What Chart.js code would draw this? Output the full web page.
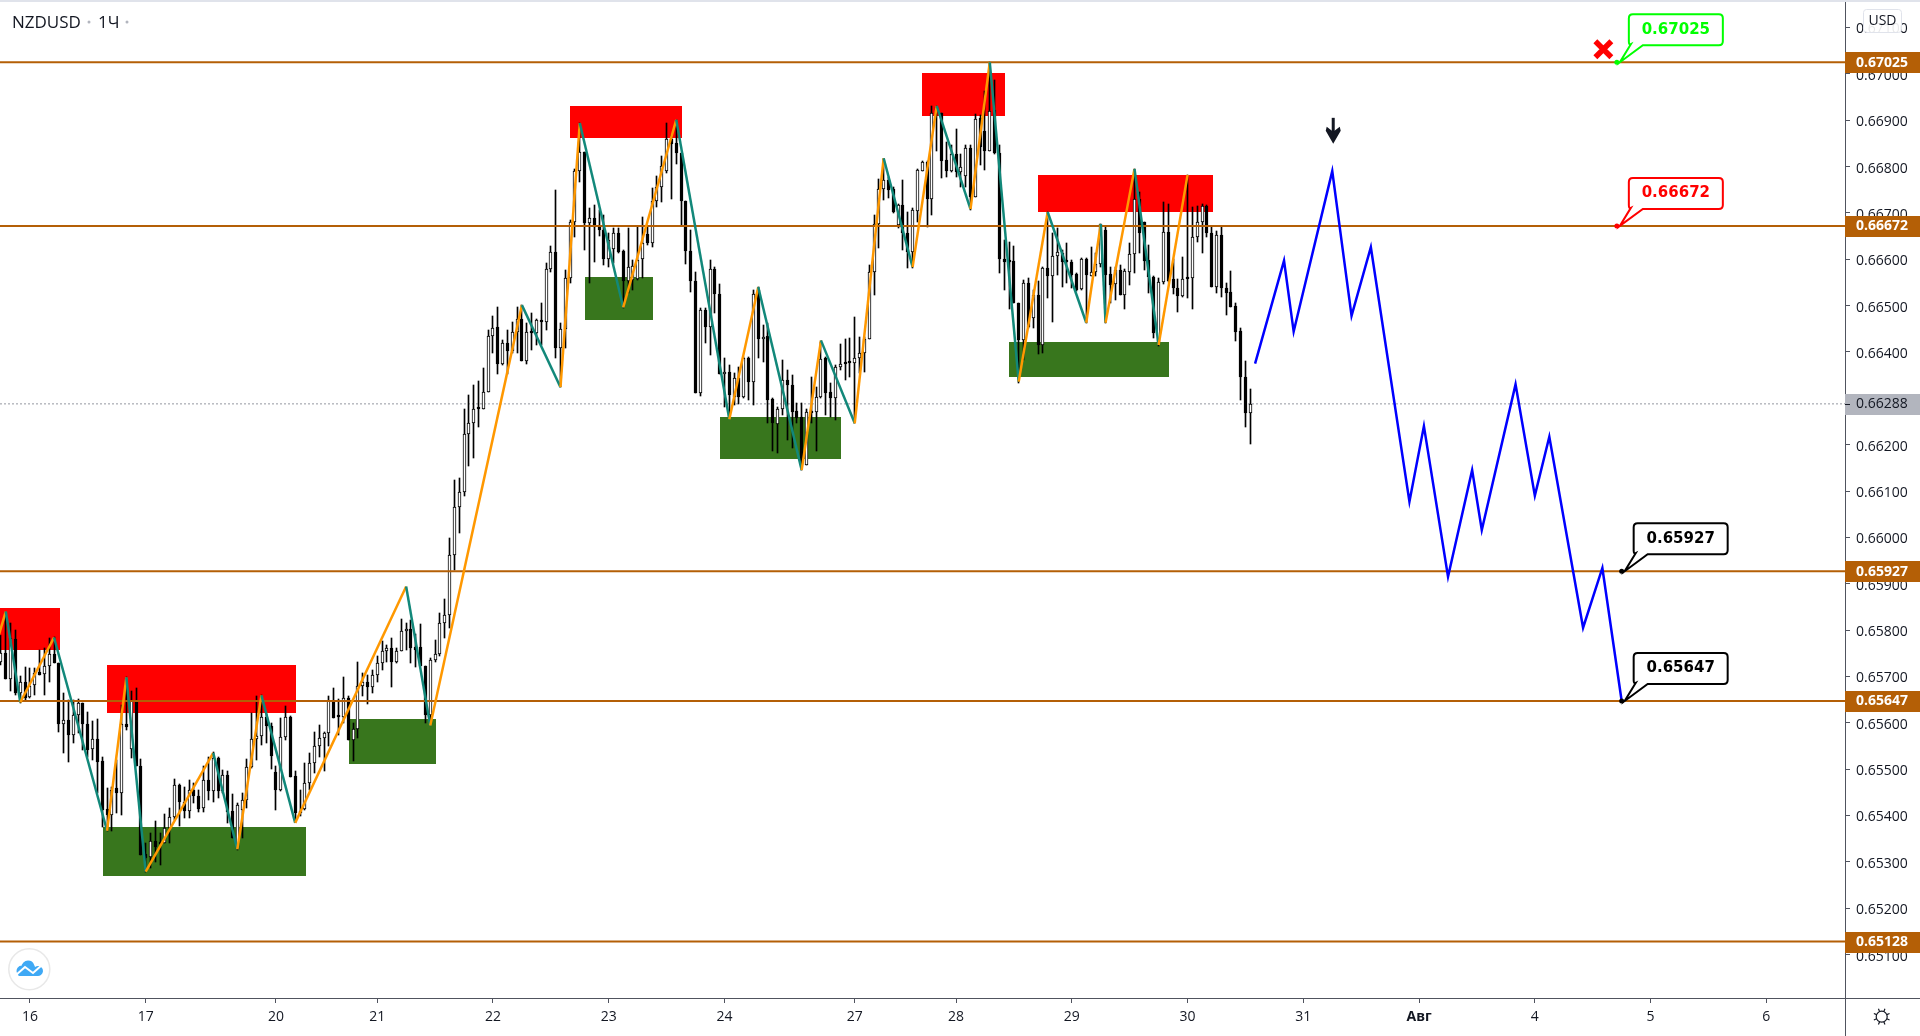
<!DOCTYPE html>
<html>
<head>
<meta charset="utf-8">
<title>NZDUSD</title>
<script src="https://cdn.jsdelivr.net/npm/chart.js@4"></script>
<style>
html, body { margin: 0; background: #fff; }
canvas { display: block; }
</style>
</head>
<body>
<canvas id="chart" width="1920" height="1036"></canvas>
<script>
// hourly candles, index 0 is the first bar on the left
const opens = [
0.65732,0.65750,0.65694,0.65781,0.65664,0.65689,0.65655,0.65682,0.65710,0.65705,
0.65722,0.65748,0.65730,0.65597,0.65606,0.65573,0.65616,0.65642,0.65597,0.65543,
0.65565,0.65518,0.65413,0.65401,0.65459,0.65448,0.65597,0.65544,0.65646,0.65507,
0.65317,0.65310,0.65345,0.65340,0.65341,0.65374,0.65396,0.65466,0.65428,0.65410,
0.65455,0.65442,0.65416,0.65477,0.65452,0.65524,0.65452,0.65488,0.65410,0.65327,
0.65412,0.65434,0.65504,0.65565,0.65572,0.65612,0.65592,0.65493,0.65454,0.65569,
0.65612,0.65485,0.65408,0.65413,0.65470,0.65513,0.65550,0.65567,0.65578,0.65648,
0.65615,0.65612,0.65653,0.65563,0.65586,0.65680,0.65688,0.65678,0.65704,0.65729,
0.65754,0.65761,0.65732,0.65754,0.65798,0.65802,0.65763,0.65763,0.65722,0.65617,
0.65735,0.65748,0.65815,0.65832,0.65963,0.66066,0.66098,0.66224,0.66246,0.66278,
0.66276,0.66314,0.66435,0.66453,0.66374,0.66419,0.66403,0.66442,0.66472,0.66381,
0.66444,0.66440,0.66469,0.66465,0.66580,0.66615,0.66408,0.66449,0.66559,0.66680,
0.66790,0.66832,0.66679,0.66690,0.66670,0.66664,0.66600,0.66623,0.66656,0.66618,
0.66554,0.66555,0.66557,0.66600,0.66654,0.66636,0.66726,0.66756,0.66791,0.66859,
0.66850,0.66830,0.66726,0.66618,0.66554,0.66311,0.66490,0.66453,0.66580,0.66526,
0.66352,0.66357,0.66303,0.66343,0.66303,0.66388,0.66336,0.66534,0.66429,0.66434,
0.66298,0.66244,0.66276,0.66339,0.66329,0.66273,0.66259,0.66156,0.66273,0.66271,
0.66302,0.66386,0.66314,0.66301,0.66367,0.66377,0.66377,0.66377,0.66386,0.66397,
0.66429,0.66572,0.66675,0.66751,0.66772,0.66751,0.66674,0.66717,0.66656,0.66616,
0.66705,0.66791,0.66809,0.66729,0.66928,0.66916,0.66814,0.66791,0.66826,0.66789,
0.66779,0.66841,0.66735,0.66905,0.66876,0.66833,0.66921,0.66830,0.66600,0.66596,
0.66596,0.66505,0.66426,0.66548,0.66473,0.66523,0.66416,0.66581,0.66563,0.66606,
0.66613,0.66595,0.66595,0.66568,0.66535,0.66600,0.66564,0.66573,0.66590,0.66664,
0.66568,0.66546,0.66577,0.66522,0.66573,0.66611,0.66729,0.66681,0.66598,0.66561,
0.66419,0.66550,0.66658,0.66558,0.66538,0.66520,0.66559,0.66559,0.66647,0.66680,
0.66715,0.66656,0.66541,0.66652,0.66538,0.66529,0.66500,0.66446,0.66347,0.66268];
const highs = [
0.65790,0.65840,0.65815,0.65801,0.65700,0.65720,0.65718,0.65718,0.65758,0.65761,
0.65783,0.65784,0.65730,0.65664,0.65650,0.65650,0.65651,0.65642,0.65624,0.65603,
0.65608,0.65527,0.65459,0.65462,0.65520,0.65639,0.65699,0.65669,0.65675,0.65521,
0.65340,0.65362,0.65387,0.65362,0.65403,0.65416,0.65478,0.65468,0.65462,0.65477,
0.65470,0.65455,0.65506,0.65527,0.65538,0.65527,0.65498,0.65497,0.65446,0.65426,
0.65448,0.65521,0.65621,0.65657,0.65659,0.65619,0.65599,0.65507,0.65610,0.65637,
0.65615,0.65497,0.65454,0.65514,0.65534,0.65581,0.65596,0.65581,0.65658,0.65675,
0.65651,0.65699,0.65657,0.65599,0.65732,0.65707,0.65704,0.65714,0.65743,0.65776,
0.65768,0.65783,0.65761,0.65824,0.65815,0.65822,0.65792,0.65812,0.65723,0.65740,
0.65779,0.65837,0.65866,0.65998,0.66124,0.66127,0.66278,0.66307,0.66329,0.66337,
0.66365,0.66447,0.66477,0.66496,0.66426,0.66447,0.66465,0.66497,0.66501,0.66462,
0.66483,0.66472,0.66505,0.66591,0.66628,0.66749,0.66462,0.66577,0.66685,0.66794,
0.66893,0.66832,0.66710,0.66717,0.66706,0.66695,0.66656,0.66667,0.66667,0.66620,
0.66667,0.66598,0.66670,0.66692,0.66670,0.66753,0.66780,0.66823,0.66893,0.66868,
0.66900,0.66830,0.66726,0.66664,0.66573,0.66494,0.66494,0.66598,0.66584,0.66547,
0.66386,0.66372,0.66354,0.66368,0.66390,0.66390,0.66534,0.66541,0.66458,0.66462,
0.66300,0.66282,0.66383,0.66361,0.66350,0.66289,0.66289,0.66276,0.66347,0.66325,
0.66422,0.66390,0.66332,0.66372,0.66417,0.66429,0.66430,0.66476,0.66433,0.66433,
0.66587,0.66695,0.66774,0.66816,0.66777,0.66755,0.66720,0.66771,0.66703,0.66710,
0.66794,0.66812,0.66812,0.66930,0.66931,0.66916,0.66853,0.66846,0.66882,0.66828,
0.66846,0.66846,0.66913,0.66911,0.66964,0.67025,0.66986,0.66846,0.66642,0.66638,
0.66629,0.66505,0.66555,0.66559,0.66534,0.66552,0.66584,0.66702,0.66656,0.66667,
0.66620,0.66634,0.66598,0.66570,0.66602,0.66602,0.66626,0.66613,0.66676,0.66669,
0.66584,0.66584,0.66588,0.66580,0.66634,0.66795,0.66746,0.66681,0.66631,0.66564,
0.66559,0.66723,0.66719,0.66600,0.66557,0.66604,0.66781,0.66713,0.66715,0.66719,
0.66717,0.66670,0.66662,0.66672,0.66548,0.66575,0.66505,0.66451,0.66381,0.66320];
const lows = [
0.65725,0.65694,0.65668,0.65660,0.65642,0.65650,0.65653,0.65660,0.65704,0.65660,
0.65689,0.65730,0.65581,0.65534,0.65515,0.65556,0.65578,0.65542,0.65527,0.65520,
0.65448,0.65376,0.65367,0.65367,0.65405,0.65401,0.65585,0.65524,0.65506,0.65315,
0.65279,0.65286,0.65300,0.65293,0.65340,0.65340,0.65390,0.65378,0.65394,0.65394,
0.65426,0.65408,0.65408,0.65434,0.65430,0.65437,0.65448,0.65383,0.65351,0.65326,
0.65351,0.65416,0.65502,0.65520,0.65552,0.65556,0.65501,0.65412,0.65452,0.65563,
0.65484,0.65385,0.65398,0.65412,0.65455,0.65491,0.65527,0.65495,0.65549,0.65610,
0.65574,0.65599,0.65563,0.65518,0.65567,0.65657,0.65641,0.65665,0.65689,0.65714,
0.65732,0.65677,0.65730,0.65754,0.65758,0.65730,0.65720,0.65722,0.65599,0.65599,
0.65732,0.65743,0.65783,0.65805,0.65929,0.66010,0.66089,0.66155,0.66172,0.66239,
0.66276,0.66314,0.66397,0.66352,0.66372,0.66352,0.66397,0.66397,0.66381,0.66374,
0.66404,0.66415,0.66415,0.66447,0.66573,0.66386,0.66325,0.66408,0.66548,0.66649,
0.66767,0.66620,0.66548,0.66593,0.66650,0.66588,0.66584,0.66591,0.66613,0.66495,
0.66527,0.66534,0.66555,0.66559,0.66630,0.66627,0.66712,0.66724,0.66787,0.66731,
0.66805,0.66674,0.66590,0.66529,0.66311,0.66304,0.66420,0.66393,0.66483,0.66352,
0.66282,0.66257,0.66286,0.66288,0.66300,0.66296,0.66286,0.66386,0.66379,0.66246,
0.66187,0.66181,0.66264,0.66210,0.66192,0.66246,0.66145,0.66156,0.66246,0.66186,
0.66300,0.66264,0.66260,0.66253,0.66360,0.66339,0.66347,0.66246,0.66354,0.66357,
0.66429,0.66523,0.66624,0.66728,0.66733,0.66699,0.66667,0.66620,0.66581,0.66581,
0.66681,0.66791,0.66669,0.66695,0.66833,0.66776,0.66778,0.66789,0.66778,0.66756,
0.66756,0.66706,0.66735,0.66803,0.66792,0.66833,0.66828,0.66570,0.66534,0.66492,
0.66505,0.66333,0.66383,0.66451,0.66451,0.66396,0.66398,0.66516,0.66464,0.66566,
0.66541,0.66548,0.66537,0.66532,0.66534,0.66462,0.66563,0.66563,0.66584,0.66462,
0.66505,0.66512,0.66522,0.66493,0.66545,0.66570,0.66613,0.66577,0.66527,0.66431,
0.66413,0.66546,0.66550,0.66524,0.66487,0.66518,0.66516,0.66492,0.66638,0.66613,
0.66647,0.66540,0.66527,0.66518,0.66479,0.66498,0.66423,0.66296,0.66238,0.66202];
const closes = [
0.65750,0.65694,0.65783,0.65664,0.65689,0.65653,0.65680,0.65707,0.65704,0.65722,
0.65748,0.65730,0.65597,0.65605,0.65573,0.65616,0.65642,0.65597,0.65542,0.65565,
0.65516,0.65412,0.65401,0.65455,0.65448,0.65597,0.65590,0.65646,0.65507,0.65315,
0.65308,0.65344,0.65333,0.65339,0.65374,0.65396,0.65465,0.65428,0.65410,0.65454,
0.65441,0.65414,0.65477,0.65452,0.65524,0.65452,0.65488,0.65408,0.65352,0.65423,
0.65434,0.65504,0.65565,0.65572,0.65612,0.65592,0.65529,0.65454,0.65569,0.65612,
0.65484,0.65406,0.65406,0.65470,0.65513,0.65550,0.65567,0.65578,0.65648,0.65611,
0.65612,0.65653,0.65563,0.65586,0.65680,0.65687,0.65678,0.65704,0.65729,0.65754,
0.65761,0.65732,0.65754,0.65798,0.65802,0.65761,0.65758,0.65722,0.65617,0.65735,
0.65748,0.65815,0.65832,0.65963,0.66066,0.66098,0.66224,0.66246,0.66278,0.66276,
0.66314,0.66435,0.66452,0.66374,0.66419,0.66403,0.66442,0.66472,0.66381,0.66444,
0.66440,0.66469,0.66465,0.66580,0.66615,0.66408,0.66449,0.66559,0.66680,0.66790,
0.66832,0.66679,0.66690,0.66669,0.66664,0.66600,0.66641,0.66656,0.66616,0.66554,
0.66584,0.66585,0.66598,0.66634,0.66636,0.66726,0.66756,0.66801,0.66859,0.66849,
0.66830,0.66726,0.66618,0.66554,0.66311,0.66490,0.66453,0.66580,0.66526,0.66352,
0.66357,0.66307,0.66343,0.66303,0.66386,0.66336,0.66526,0.66429,0.66433,0.66296,
0.66246,0.66276,0.66339,0.66329,0.66271,0.66257,0.66156,0.66270,0.66269,0.66302,
0.66384,0.66312,0.66301,0.66367,0.66375,0.66375,0.66376,0.66386,0.66397,0.66429,
0.66572,0.66675,0.66751,0.66772,0.66749,0.66703,0.66717,0.66656,0.66616,0.66706,
0.66792,0.66809,0.66729,0.66916,0.66921,0.66812,0.66791,0.66826,0.66789,0.66800,
0.66841,0.66735,0.66903,0.66842,0.66833,0.66920,0.66830,0.66600,0.66593,0.66593,
0.66505,0.66425,0.66548,0.66454,0.66523,0.66415,0.66581,0.66563,0.66606,0.66615,
0.66593,0.66593,0.66566,0.66534,0.66600,0.66565,0.66573,0.66590,0.66675,0.66566,
0.66545,0.66577,0.66522,0.66575,0.66611,0.66729,0.66656,0.66597,0.66561,0.66441,
0.66550,0.66658,0.66554,0.66538,0.66520,0.66557,0.66557,0.66647,0.66680,0.66715,
0.66656,0.66541,0.66652,0.66538,0.66528,0.66498,0.66444,0.66347,0.66268,0.66288];

// zigzag drawn over the candles
const zigzagBars = [-1,1,4,11,22,26,30,44,49,54,61,84,89,108,116,120,129,140,151,157,166,170,177,183,189,194,201,205,211,217,225,228,229,235,240,246];
const zigzagPrices = [0.65770,0.65840,0.65644,0.65784,0.65367,0.65698,0.65279,0.65535,0.65327,0.65659,0.65384,0.65894,0.65594,0.66501,0.66324,0.66894,0.66496,0.66901,0.66255,0.66540,0.66145,0.66425,0.66246,0.66818,0.66583,0.66931,0.66708,0.67025,0.66336,0.66702,0.66463,0.66676,0.66463,0.66795,0.66415,0.66782];

// blue forecast path
const forecastBars = [260,266,268,276,280,284,292,295,300,305,307,314,318,321,328,332,336];
const forecastPrices = [0.66375,0.66597,0.66444,0.66790,0.66478,0.66626,0.66077,0.66240,0.65915,0.66145,0.66016,0.66330,0.66090,0.66217,0.65805,0.65934,0.65647];

// supply and demand zones
const redStart = [-1,22,118,191,215];
const redEnd = [12.2,61.2,141.2,208.2,251.3];
const redTop = [0.65848,0.65725,0.66931,0.67001,0.66782];
const redBottom = [0.65756,0.65621,0.66862,0.66909,0.66702];
const greenStart = [21.1,72.2,121.1,149.1,209];
const greenEnd = [63.2,90.2,135.2,174.2,242.2];
const greenTop = [0.65375,0.65608,0.66562,0.66260,0.66422];
const greenBottom = [0.65269,0.65511,0.66469,0.66169,0.66347];

// horizontal levels and their callouts
const levels = [0.67025,0.66672,0.65927,0.65647,0.65128];
const lastPrice = 0.66288;
const calloutBars = [335,335,336,336];
const calloutPrices = [0.67025,0.66672,0.65927,0.65647];
const calloutColors = ['#00ff00','#ff0000','#000000','#000000'];

const arrowBar = 276.2, arrowPrice = 0.66849;
const crossBar = 332.2, crossPrice = 0.67053;

const dayBars = [6,30,57,78,102,126,150,177,198,222,246,270,294,318,342,366];
const dayLabels = ['16','17','20','21','22','23','24','27','28','29','30','31','Авг','4','5','6'];
const priceTicks = [0.651,0.652,0.653,0.654,0.655,0.656,0.657,0.658,0.659,0.660,0.661,0.662,0.664,0.665,0.666,0.667,0.668,0.669,0.670,0.671];

const brown = '#b45f06';
const axisColor = '#50535e';
const textColor = '#131722';
const axisFont = '"Open Sans", sans-serif';

const xMin = -0.2, xMax = 382.3;
const yMin = 0.650062, yMax = 0.671550;

function zonesOf(ctx, chart, starts, ends, tops, bottoms, color) {
    const { x, y } = chart.scales;
    const area = chart.chartArea;
    ctx.fillStyle = color;
    starts.forEach((s, i) => {
        const left = Math.max(Math.round(x.getPixelForValue(s)), area.left);
        const right = Math.round(x.getPixelForValue(ends[i]));
        const top = Math.round(y.getPixelForValue(tops[i]));
        const bottom = Math.round(y.getPixelForValue(bottoms[i]));
        ctx.fillRect(left, top, right - left, bottom - top);
    });
}

// zones sit behind the candles
const zonesPlugin = {
    id: 'zones',
    beforeDatasetsDraw(chart) {
        const ctx = chart.ctx;
        ctx.save();
        zonesOf(ctx, chart, redStart, redEnd, redTop, redBottom, '#ff0000');
        zonesOf(ctx, chart, greenStart, greenEnd, greenTop, greenBottom, '#38761d');
        ctx.restore();
    }
};

// keep the candles on whole pixels so they stay sharp
const snapPlugin = {
    id: 'snap',
    afterDatasetsUpdate(chart) {
        chart.data.datasets.forEach((ds, i) => {
            if (ds.type !== 'bar') return;
            chart.getDatasetMeta(i).data.forEach(bar => {
                bar.x = Math.floor(bar.x) + 0.5;
                bar.y = Math.round(bar.y);
                bar.base = Math.round(bar.base);
            });
        });
    }
};

function drawCallout(ctx, px, py, price, color) {
    const left = px + 12, right = px + 106, top = py - 48, bottom = py - 17, r = 4;
    ctx.beginPath();
    ctx.moveTo(left + r, top);
    ctx.lineTo(right - r, top);
    ctx.quadraticCurveTo(right, top, right, top + r);
    ctx.lineTo(right, bottom - r);
    ctx.quadraticCurveTo(right, bottom, right - r, bottom);
    ctx.lineTo(left + 14, bottom);
    ctx.lineTo(px + 3, py);
    ctx.lineTo(left + 2, bottom - 1);
    ctx.quadraticCurveTo(left, bottom, left, bottom - r);
    ctx.lineTo(left, top + r);
    ctx.quadraticCurveTo(left, top, left + r, top);
    ctx.closePath();
    ctx.fillStyle = '#fff';
    ctx.fill();
    ctx.strokeStyle = color;
    ctx.lineWidth = 2;
    ctx.stroke();
    ctx.fillStyle = color;
    ctx.beginPath();
    ctx.arc(px, py, 2.5, 0, Math.PI * 2);
    ctx.fill();
    ctx.font = 'bold 15px "DejaVu Sans"';
    ctx.textAlign = 'center';
    ctx.textBaseline = 'middle';
    ctx.fillText(price.toFixed(5), (left + right) / 2, (top + bottom) / 2);
}

function drawPriceTag(ctx, py, price, background, color, weight) {
    ctx.fillStyle = background;
    ctx.fillRect(1845, Math.round(py) - 10, 75, 21);
    ctx.fillStyle = color;
    ctx.font = weight + ' 14px ' + axisFont;
    ctx.textAlign = 'left';
    ctx.textBaseline = 'middle';
    ctx.fillText(price.toFixed(5), 1856, py + 0.5);
}

function drawLogo(ctx) {
    ctx.strokeStyle = '#e8e8e8';
    ctx.lineWidth = 1.5;
    ctx.fillStyle = '#fff';
    ctx.beginPath();
    ctx.arc(29.3, 969.3, 20.5, 0, Math.PI * 2);
    ctx.fill();
    ctx.stroke();
    ctx.fillStyle = '#3fa9f5';
    ctx.beginPath();
    ctx.arc(22, 971, 5.5, Math.PI * 0.7, Math.PI * 1.5);
    ctx.arc(28, 967, 6.5, Math.PI, Math.PI * 1.9);
    ctx.arc(38, 971, 5, Math.PI * 1.3, Math.PI * 0.5);
    ctx.lineTo(18, 976);
    ctx.closePath();
    ctx.fill();
    ctx.strokeStyle = '#fff';
    ctx.lineWidth = 2;
    ctx.beginPath();
    ctx.moveTo(16, 975);
    ctx.lineTo(25, 967);
    ctx.lineTo(33, 973);
    ctx.lineTo(42, 965);
    ctx.stroke();
}

function drawGear(ctx, cx, cy) {
    ctx.strokeStyle = '#131722';
    ctx.lineWidth = 1.2;
    ctx.beginPath();
    ctx.arc(cx, cy, 5.5, 0, Math.PI * 2);
    ctx.stroke();
    ctx.beginPath();
    for (let i = 0; i < 8; i++) {
        const a = i * Math.PI / 4 + Math.PI / 8;
        ctx.moveTo(cx + Math.cos(a) * 5.5, cy + Math.sin(a) * 5.5);
        ctx.lineTo(cx + Math.cos(a) * 8.5, cy + Math.sin(a) * 8.5);
    }
    ctx.stroke();
}

// everything TradingView paints on top: tags, callouts, header
const overlayPlugin = {
    id: 'overlay',
    afterDraw(chart) {
        const { x, y } = chart.scales;
        const ctx = chart.ctx;
        ctx.save();

        ctx.fillStyle = '#e0e3eb';
        ctx.fillRect(0, 0, 1920, 2);
        ctx.fillStyle = axisColor;
        ctx.fillRect(1845, 2, 1, 1034);
        ctx.fillRect(0, 998, 1920, 1);

        levels.forEach(v => drawPriceTag(ctx, y.getPixelForValue(v), v, brown, '#fff', 'bold'));
        drawPriceTag(ctx, y.getPixelForValue(lastPrice), lastPrice, '#b2b5be', textColor, 'normal');
        ctx.fillStyle = textColor;
        ctx.fillRect(1845, Math.round(y.getPixelForValue(lastPrice)), 5, 1);

        calloutBars.forEach((b, i) => {
            drawCallout(ctx, x.getPixelForValue(b), y.getPixelForValue(calloutPrices[i]), calloutPrices[i], calloutColors[i]);
        });

        // cross over the first target
        const cx = x.getPixelForValue(crossBar), cy = y.getPixelForValue(crossPrice);
        ctx.strokeStyle = '#ff0000';
        ctx.lineWidth = 5.5;
        ctx.beginPath();
        ctx.moveTo(cx - 8, cy - 8);
        ctx.lineTo(cx + 8, cy + 8);
        ctx.moveTo(cx + 8, cy - 8);
        ctx.lineTo(cx - 8, cy + 8);
        ctx.stroke();

        // down arrow above the forecast peak
        const ax = x.getPixelForValue(arrowBar), ay = y.getPixelForValue(arrowPrice);
        ctx.fillStyle = '#131722';
        ctx.fillRect(ax - 1.5, ay - 26, 3, 16);
        ctx.beginPath();
        ctx.moveTo(ax, ay);
        ctx.lineTo(ax - 7.5, ay - 13);
        ctx.lineTo(ax - 6.5, ay - 17);
        ctx.lineTo(ax, ay - 12);
        ctx.lineTo(ax + 6.5, ay - 17);
        ctx.lineTo(ax + 7.5, ay - 13);
        ctx.closePath();
        ctx.fill();

        // USD button
        ctx.fillStyle = 'rgba(255,255,255,0.9)';
        ctx.strokeStyle = '#e0e3eb';
        ctx.lineWidth = 1;
        ctx.beginPath();
        ctx.roundRect(1863.5, 9.5, 38, 23, 3);
        ctx.fill();
        ctx.stroke();
        ctx.fillStyle = textColor;
        ctx.font = '14px ' + axisFont;
        ctx.textAlign = 'center';
        ctx.textBaseline = 'middle';
        ctx.fillText('USD', 1882.5, 21);

        // symbol header
        ctx.textAlign = 'left';
        ctx.font = '17px ' + axisFont;
        ctx.fillStyle = textColor;
        ctx.fillText('NZDUSD', 12, 23);
        ctx.fillText('1Ч', 98, 23);
        ctx.fillStyle = '#b2b5be';
        ctx.beginPath();
        ctx.arc(89, 22, 1.5, 0, Math.PI * 2);
        ctx.arc(127, 22, 1.5, 0, Math.PI * 2);
        ctx.fill();

        drawLogo(ctx);
        drawGear(ctx, 1881.7, 1016.7);
        ctx.restore();
    }
};

const barIndex = opens.map((_, i) => i);
const isUp = barIndex.map(i => closes[i] >= opens[i]);

new Chart(document.getElementById('chart').getContext('2d'), {
    type: 'bar',
    data: {
        datasets: [
            ...levels.map(v => ({
                type: 'line',
                order: 3,
                data: [{ x: xMin, y: v }, { x: xMax, y: v }],
                borderColor: brown,
                borderWidth: 2,
                pointRadius: 0
            })),
            {
                type: 'line',
                order: 6,
                data: [{ x: xMin, y: lastPrice }, { x: xMax, y: lastPrice }],
                borderColor: '#9598a1',
                borderWidth: 1,
                borderDash: [2, 2],
                pointRadius: 0
            },
            {
                type: 'line',
                order: 2,
                data: zigzagBars.map((b, i) => ({ x: b, y: zigzagPrices[i] })),
                borderWidth: 2.5,
                pointRadius: 0,
                borderColor: '#ff9800',
                segment: {
                    borderColor: c => c.p1.parsed.y > c.p0.parsed.y ? '#ff9800' : '#12887a'
                }
            },
            {
                type: 'line',
                order: 1,
                data: forecastBars.map((b, i) => ({ x: b, y: forecastPrices[i] })),
                borderColor: '#0000ff',
                borderWidth: 2.5,
                borderJoinStyle: 'miter',
                pointRadius: 0
            },
            {
                type: 'bar',
                order: 4,
                data: barIndex.map(i => ({ x: i, y: [opens[i], closes[i]] })),
                barThickness: 3,
                minBarLength: 2,
                backgroundColor: isUp.map(up => up ? '#ffffff' : '#000000'),
                borderColor: '#000000',
                borderWidth: 1,
                borderSkipped: false
            },
            {
                type: 'bar',
                order: 5,
                data: barIndex.map(i => ({ x: i, y: [lows[i], highs[i]] })),
                barThickness: 1,
                backgroundColor: '#000000'
            }
        ]
    },
    options: {
        responsive: false,
        animation: false,
        devicePixelRatio: 1,
        events: [],
        layout: { padding: { top: 2, left: 0, right: 0, bottom: 0 } },
        datasets: { bar: { grouped: false } },
        plugins: { legend: { display: false }, tooltip: { enabled: false } },
        scales: {
            x: {
                type: 'linear',
                offset: false,
                min: xMin,
                max: xMax,
                afterBuildTicks: axis => { axis.ticks = dayBars.map(v => ({ value: v })); },
                afterFit: axis => { axis.height = 38; axis.paddingLeft = 0; axis.paddingRight = 0; },
                grid: { offset: false, drawOnChartArea: false, tickLength: 5, color: axisColor },
                border: { color: axisColor },
                ticks: {
                    autoSkip: false,
                    maxRotation: 0,
                    padding: 6,
                    color: textColor,
                    font: c => ({ family: axisFont, size: 14, weight: dayLabels[c.index] === 'Авг' ? 'bold' : 'normal' }),
                    callback: (value, i) => dayLabels[i]
                }
            },
            y: {
                position: 'right',
                min: yMin,
                max: yMax,
                afterBuildTicks: axis => { axis.ticks = priceTicks.map(v => ({ value: v })); },
                afterFit: axis => { axis.width = 75; axis.paddingTop = 0; axis.paddingBottom = 0; },
                grid: { drawOnChartArea: false, tickLength: 5, color: axisColor },
                border: { color: axisColor },
                ticks: {
                    autoSkip: false,
                    padding: 6,
                    labelOffset: 2,
                    color: textColor,
                    font: { family: axisFont, size: 14 },
                    callback: value => Number(value).toFixed(5)
                }
            }
        }
    },
    plugins: [zonesPlugin, snapPlugin, overlayPlugin]
});
</script>
</body>
</html>
